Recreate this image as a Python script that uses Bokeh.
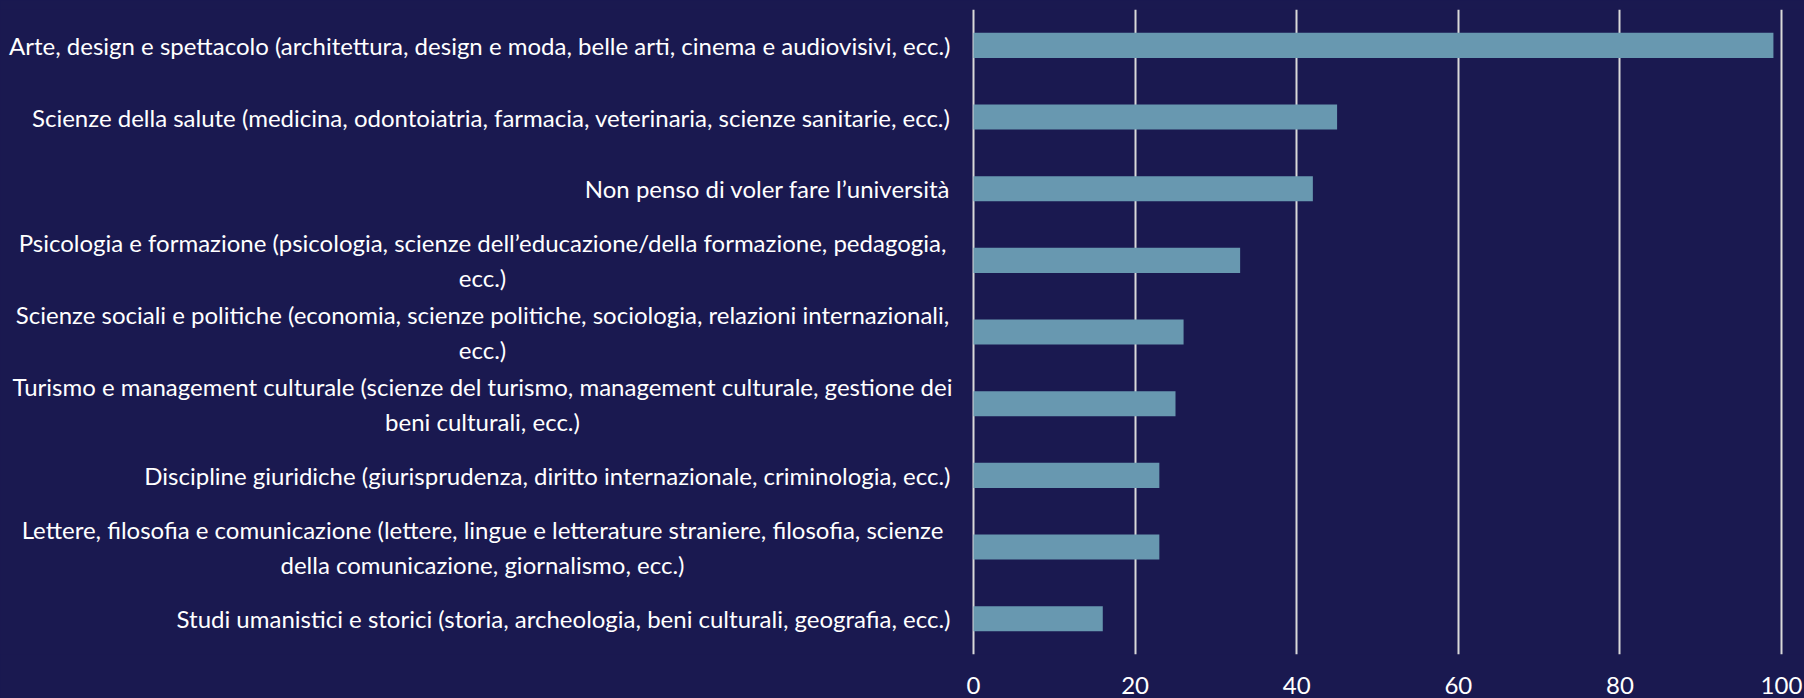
from bokeh.plotting import figure
from bokeh.models import FactorRange, Range1d, FixedTicker, ColumnDataSource
from bokeh.core.properties import value
from bokeh.embed import file_html
from bokeh.resources import INLINE

# ---------------- data ----------------
categories = [
    "Arte, design e spettacolo (architettura, design e moda, belle arti, cinema e audiovisivi, ecc.)",
    "Scienze della salute (medicina, odontoiatria, farmacia, veterinaria, scienze sanitarie, ecc.)",
    "Non penso di voler fare l’università",
    "Psicologia e formazione (psicologia, scienze dell’educazione/della formazione, pedagogia, ecc.)",
    "Scienze sociali e politiche (economia, scienze politiche, sociologia, relazioni internazionali, ecc.)",
    "Turismo e management culturale (scienze del turismo, management culturale, gestione dei beni culturali, ecc.)",
    "Discipline giuridiche (giurisprudenza, diritto internazionale, criminologia, ecc.)",
    "Lettere, filosofia e comunicazione (lettere, lingue e letterature straniere, filosofia, scienze della comunicazione, giornalismo, ecc.)",
    "Studi umanistici e storici (storia, archeologia, beni culturali, geografia, ecc.)",
]
label_lines = [
    "Arte, design e spettacolo (architettura, design e moda, belle arti, cinema e audiovisivi, ecc.)",
    "Scienze della salute (medicina, odontoiatria, farmacia, veterinaria, scienze sanitarie, ecc.)",
    "Non penso di voler fare l’università",
    "Psicologia e formazione (psicologia, scienze dell’educazione/della formazione, pedagogia,\necc.)",
    "Scienze sociali e politiche (economia, scienze politiche, sociologia, relazioni internazionali,\necc.)",
    "Turismo e management culturale (scienze del turismo, management culturale, gestione dei\nbeni culturali, ecc.)",
    "Discipline giuridiche (giurisprudenza, diritto internazionale, criminologia, ecc.)",
    "Lettere, filosofia e comunicazione (lettere, lingue e letterature straniere, filosofia, scienze\ndella comunicazione, giornalismo, ecc.)",
    "Studi umanistici e storici (storia, archeologia, beni culturali, geografia, ecc.)",
]
values = [99, 45, 42, 33, 26, 25, 23, 23, 16]
tick_values = [0, 20, 40, 60, 80, 100]

# ---------------- style / layout ----------------
BG = "#1A1950"
BAR = "#6898B0"
GRID = "#D9D9D9"
TXT = "#FFFFFF"
FONT = "Lato"
FS = "24px"

W, H = 1804, 698
ZERO_PX = 973.0          # pixel of value 0
PX_PER_UNIT = 8.08
x_start = -ZERO_PX / PX_PER_UNIT
x_end = (W - ZERO_PX) / PX_PER_UNIT
LABEL_RIGHT = (950 - ZERO_PX) / PX_PER_UNIT
LABEL_CENTER = (482 - ZERO_PX) / PX_PER_UNIT

p = figure(
    width=W, height=H,
    x_range=Range1d(x_start, x_end),
    y_range=FactorRange(factors=list(reversed(categories)), range_padding=0),
    output_backend="svg", toolbar_location=None,
    y_axis_location=None,
    min_border_left=0, min_border_right=0, min_border_top=9, min_border_bottom=44,
    background_fill_color=BG, border_fill_color=BG, outline_line_color=None,
)

src = ColumnDataSource(dict(cat=categories, val=values))
p.hbar(y="cat", right="val", left=0, height=0.35, source=src,
       fill_color=BAR, line_color=None)

# category labels
single = [i for i, t in enumerate(label_lines) if "\n" not in t]
multi = [i for i, t in enumerate(label_lines) if "\n" in t]
p.text(x=[LABEL_RIGHT] * len(single), y=[categories[i] for i in single],
       text=[label_lines[i] for i in single],
       text_align="right", text_baseline="middle",
       text_font=value(FONT), text_font_size=FS, text_color=TXT)
p.text(x=[LABEL_CENTER] * len(multi), y=[categories[i] for i in multi],
       text=[label_lines[i] for i in multi],
       text_align="center", text_baseline="middle", text_line_height=1.2,
       text_font=value(FONT), text_font_size=FS, text_color=TXT)

# axis / grid
p.xaxis.ticker = FixedTicker(ticks=tick_values)
p.xaxis.axis_line_color = None
p.xaxis.major_tick_line_color = None
p.xaxis.minor_tick_line_color = None
p.xaxis.major_label_standoff = 16
p.xaxis.major_label_text_font = FONT
p.xaxis.major_label_text_font_size = FS
p.xaxis.major_label_text_color = TXT

p.xgrid.ticker = FixedTicker(ticks=tick_values)
p.xgrid.grid_line_color = GRID
p.xgrid.grid_line_width = 2
p.ygrid.grid_line_color = None

try:
    from jinja2 import Template
    tmpl = Template("{% extends base %}{% block preamble %}<style>html, body { background: "
                    + BG + "; }</style>{% endblock %}")
    html = file_html(p, INLINE, template=tmpl)
except Exception:
    html = file_html(p, INLINE)
open("out.html", "w").write(html)
